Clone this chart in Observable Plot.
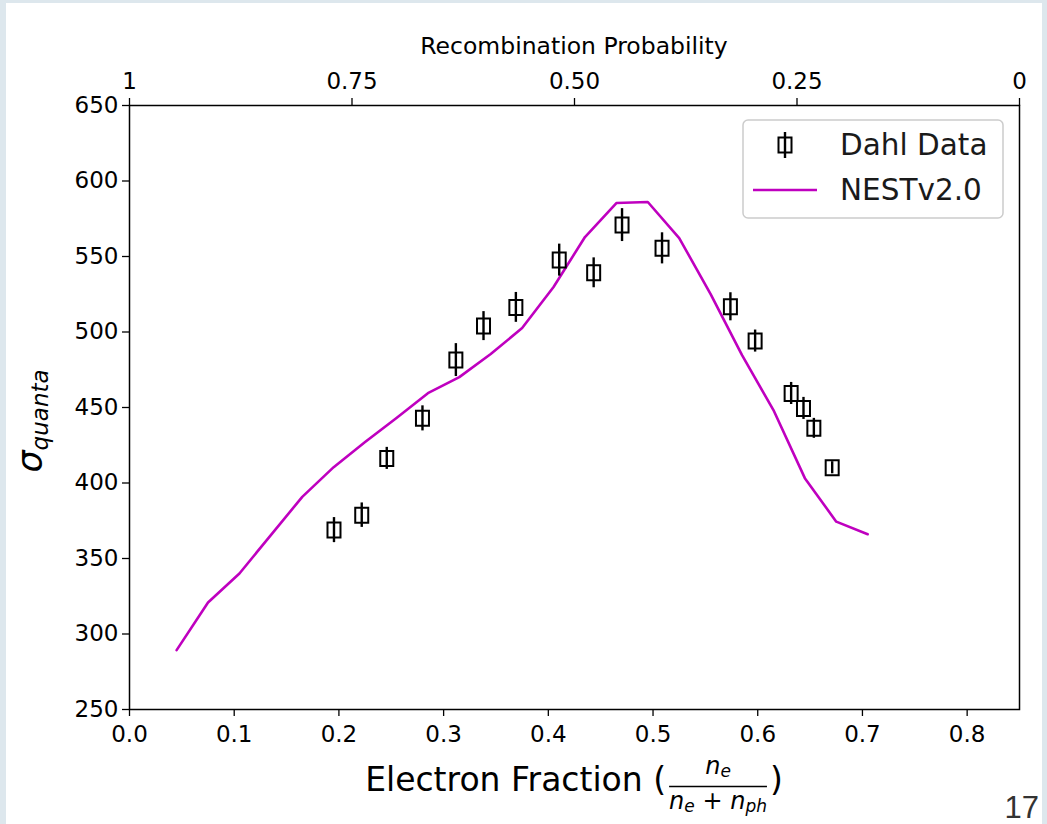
<!DOCTYPE html>
<html><head><meta charset="utf-8">
<script src="https://cdn.jsdelivr.net/npm/d3@7"></script>
<script src="https://cdn.jsdelivr.net/npm/@observablehq/plot@0.6"></script>
<style>
html,body{margin:0;padding:0;background:#dde7ed;width:1047px;height:824px;overflow:hidden}
#chart{position:absolute;left:6px;top:3px;width:1036px;height:821px;background:#fff;overflow:hidden}
svg text{white-space:pre}
</style></head><body><div id="chart"></div>
<script>
// ---- data ----
const dahlX   = [0.1953,0.2218,0.2457,0.2798,0.3117,0.3381,0.3690,0.4104,0.4433,0.4704,0.5086,0.5739,0.5975,0.6319,0.6437,0.6536,0.6711];
const dahlY   = [368.8,378.7,416.3,442.8,481.4,503.9,516.3,547.6,539.2,570.8,555.4,516.7,494.0,459.3,449.4,436.2,410.1];
const dahlErr = [8.3,8.1,7.3,8.3,10.9,9.6,9.9,10.6,9.9,10.9,10.3,9.3,7.3,7.3,7.3,6.6,4.0];
const nestX = [0.045,0.075,0.105,0.135,0.165,0.195,0.225,0.255,0.285,0.315,0.345,0.375,0.405,0.435,0.465,0.495,0.525,0.555,0.585,0.615,0.645,0.675,0.705];
const nestY = [289.3,320.9,340.1,365.5,390.8,410.5,427.1,443.0,459.5,470.1,485.4,502.6,529.8,562.9,585.4,586.1,562.2,525.1,484.7,448.3,403.2,374.4,366.1];
const xTicks = [0,0.1,0.2,0.3,0.4,0.5,0.6,0.7,0.8];
const yTicks = [250,300,350,400,450,500,550,600,650];
const recombTicks  = [1,0.75,0.5,0.25,0];
const recombLabels = ["1","0.75","0.50","0.25","0"];
const xMax = 0.85;
const seriesNames = ["Dahl Data","NESTv2.0"];
const titleTop = "Recombination Probability";

const dahl = dahlX.map((x,i)=>({x, y:dahlY[i], e:dahlErr[i]}));
const nest = nestX.map((x,i)=>({x, y:nestY[i]}));
const topPos = recombTicks.map(p => (1-p)*xMax);
const topLabel = d => { const k = topPos.findIndex(v => Math.abs(v-d) < 1e-6); return k>=0 ? recombLabels[k] : ""; };

const BW = 6.5, BH = 7.5;
const rectSymbol = {draw(ctx){ ctx.moveTo(-BW,-BH); ctx.lineTo(BW,-BH); ctx.lineTo(BW,BH); ctx.lineTo(-BW,BH); ctx.closePath(); }};
const MAG = "#bf00bf";
const FONT = "DejaVu Sans";

const W = 1036, H = 821;
const chart = Plot.plot({
  width: W, height: H,
  marginLeft: 123, marginRight: 23, marginTop: 102, marginBottom: 115,
  style: {fontFamily: FONT, fontSize: "23px", color: "#000", background: "#fff", overflow: "visible"},
  x: {domain: [0, xMax]},
  y: {domain: [250, 650]},
  marks: [
    Plot.axisX({anchor: "bottom", ticks: xTicks, tickFormat: d3.format(".1f"), tickSize: 7, tickPadding: 9, label: null, fontSize: 23, strokeWidth: 1.3}),
    Plot.axisX({anchor: "top", ticks: topPos, tickFormat: topLabel, tickSize: 8, tickPadding: 9, label: null, fontSize: 23, strokeWidth: 1.3}),
    Plot.axisY({ticks: yTicks, tickSize: 7, tickPadding: 4, label: null, fontSize: 23, strokeWidth: 1.3}),
    Plot.line(nest, {x: "x", y: "y", stroke: MAG, strokeWidth: 2.6}),
    Plot.ruleX(dahl, {x: "x", y1: d => d.y - d.e, y2: d => d.y + d.e, stroke: "#000", strokeWidth: 2.4}),
    Plot.dot(dahl, {x: "x", y: "y", symbol: rectSymbol, r: 5, stroke: "#000", strokeWidth: 2, fill: "none"}),
    Plot.frame({stroke: "#000", strokeWidth: 1.5})
  ]
});
document.getElementById("chart").appendChild(chart);

const svg = d3.select(chart);
const xs = chart.scale("x");
const cx = xs.apply(xMax/2);
const g = svg.append("g").attr("font-family", FONT).attr("fill", "#000").attr("text-anchor", "start");

// top title
g.append("text").attr("x", cx).attr("y", 51).attr("text-anchor", "middle").attr("font-size", 23.5).text(titleTop);

// x label with fraction
const lbl = g.append("g");
const t1 = lbl.append("text").attr("font-size", 33).attr("y", 788).attr("text-anchor", "start").text("Electron Fraction (");
const num = lbl.append("text").attr("font-size", 24).attr("text-anchor", "middle").attr("y", 771);
num.append("tspan").attr("font-style", "italic").text("n");
num.append("tspan").attr("font-style", "italic").attr("font-size", 17).attr("dy", 3).text("e");
const den = lbl.append("text").attr("font-size", 24).attr("text-anchor", "middle").attr("y", 806);
den.append("tspan").attr("font-style", "italic").text("n");
den.append("tspan").attr("font-style", "italic").attr("font-size", 17).attr("dy", 3).text("e");
den.append("tspan").attr("dy", -3).text(" + ");
den.append("tspan").attr("font-style", "italic").text("n");
den.append("tspan").attr("font-style", "italic").attr("font-size", 17).attr("dy", 3).text("ph");
const t2 = lbl.append("text").attr("font-size", 33).attr("y", 788).attr("text-anchor", "start").text(")");
const w1 = t1.node().getComputedTextLength();
const wd = den.node().getBBox().width;
const w2 = t2.node().getComputedTextLength();
const gap = 3;
const total = w1 + gap + wd + gap + w2;
const sx = cx - total/2;
t1.attr("x", sx);
const fc = sx + w1 + gap + wd/2;
num.attr("x", fc); den.attr("x", fc);
lbl.append("line").attr("x1", fc - wd/2).attr("x2", fc + wd/2).attr("y1", 783.5).attr("y2", 783.5).attr("stroke", "#000").attr("stroke-width", 1.5);
t2.attr("x", sx + w1 + gap + wd + gap);

// y label
const yl = g.append("text").attr("transform", "translate(36,418) rotate(-90)").attr("text-anchor", "middle").attr("font-style", "italic");
yl.append("tspan").attr("font-size", 35).text("σ");
yl.append("tspan").attr("font-size", 23).attr("dy", 6).text("quanta");

// legend
const lg = g.append("g");
lg.append("rect").attr("x", 737).attr("y", 117).attr("width", 260).attr("height", 98).attr("rx", 5)
  .attr("fill", "#fff").attr("fill-opacity", 0.85).attr("stroke", "#cccccc").attr("stroke-width", 1.5);
lg.append("line").attr("x1", 779).attr("x2", 779).attr("y1", 129).attr("y2", 155).attr("stroke", "#000").attr("stroke-width", 2.4);
lg.append("rect").attr("x", 779 - BW).attr("y", 142 - BH).attr("width", 2*BW).attr("height", 2*BH).attr("fill", "none").attr("stroke", "#000").attr("stroke-width", 2);
lg.append("line").attr("x1", 747).attr("x2", 811).attr("y1", 187).attr("y2", 187).attr("stroke", MAG).attr("stroke-width", 2.6);
lg.append("text").attr("x", 834).attr("y", 152).attr("text-anchor", "start").attr("font-size", 29.5).attr("fill", "#1a1a1a").text(seriesNames[0]);
lg.append("text").attr("x", 834).attr("y", 197).attr("text-anchor", "start").attr("font-size", 29.5).attr("fill", "#1a1a1a").text(seriesNames[1]);

// slide number
g.append("text").attr("x", 1033).attr("y", 815).attr("text-anchor", "end").attr("font-family", "Liberation Sans").attr("font-size", 31).attr("fill", "#333").text("17");
</script></body></html>
